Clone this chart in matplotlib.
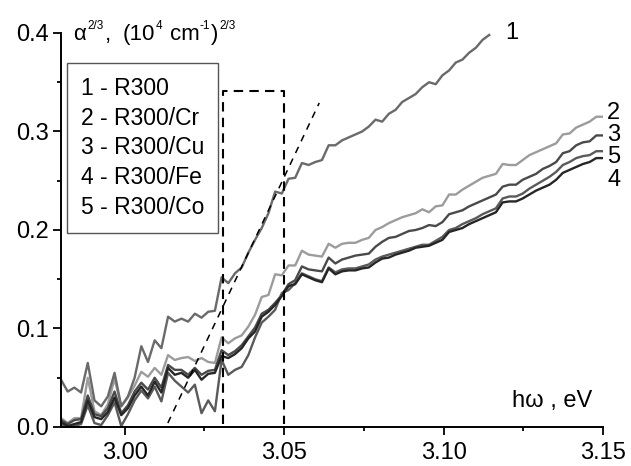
import numpy as np
import matplotlib
matplotlib.use('Agg')
import matplotlib.pyplot as plt
from matplotlib.ticker import MultipleLocator, FormatStrFormatter

plt.rcParams['font.family'] = ['Liberation Sans', 'DejaVu Sans']

# photon energy grid, eV
energy = np.linspace(2.98, 3.15, 82)

# alpha^(2/3)
r300 = [0.048, 0.036, 0.040, 0.035, 0.065, 0.027, 0.021, 0.031, 0.055, 0.021,
        0.031, 0.050, 0.082, 0.066, 0.088, 0.080, 0.112, 0.107, 0.110, 0.107,
        0.115, 0.111, 0.117, 0.118, 0.152, 0.146, 0.156, 0.162, 0.177, 0.190,
        0.202, 0.217, 0.239, 0.237, 0.252, 0.253, 0.268, 0.266, 0.269, 0.271,
        0.286, 0.286, 0.291, 0.294, 0.297, 0.300, 0.305, 0.312, 0.310, 0.318,
        0.322, 0.330, 0.334, 0.338, 0.345, 0.350, 0.348, 0.357, 0.362, 0.370,
        0.373, 0.380, 0.385, 0.393, 0.398]
r300_cr = [0.009, 0.004, 0.009, 0.009, 0.050, 0.016, 0.012, 0.023, 0.049, 0.021,
           0.030, 0.042, 0.056, 0.051, 0.060, 0.053, 0.073, 0.068, 0.070, 0.071,
           0.067, 0.070, 0.066, 0.065, 0.091, 0.085, 0.090, 0.093, 0.102, 0.114,
           0.132, 0.134, 0.155, 0.154, 0.164, 0.164, 0.179, 0.175, 0.174, 0.173,
           0.186, 0.182, 0.186, 0.187, 0.187, 0.190, 0.192, 0.200, 0.203, 0.207,
           0.210, 0.213, 0.215, 0.217, 0.221, 0.218, 0.224, 0.225, 0.236, 0.236,
           0.241, 0.245, 0.249, 0.253, 0.255, 0.257, 0.267, 0.266, 0.266, 0.271,
           0.276, 0.279, 0.282, 0.285, 0.288, 0.297, 0.298, 0.304, 0.307, 0.310,
           0.315, 0.315]
r300_cu = [0.007, 0.003, 0.007, 0.008, 0.032, 0.013, 0.011, 0.019, 0.036, 0.014,
           0.022, 0.036, 0.045, 0.038, 0.050, 0.040, 0.063, 0.058, 0.058, 0.053,
           0.060, 0.053, 0.057, 0.058, 0.078, 0.073, 0.077, 0.083, 0.092, 0.101,
           0.115, 0.119, 0.126, 0.134, 0.145, 0.149, 0.163, 0.160, 0.159, 0.158,
           0.172, 0.166, 0.170, 0.172, 0.174, 0.175, 0.176, 0.183, 0.188, 0.192,
           0.193, 0.196, 0.199, 0.200, 0.202, 0.205, 0.204, 0.208, 0.216, 0.218,
           0.220, 0.224, 0.227, 0.230, 0.233, 0.236, 0.244, 0.246, 0.246, 0.251,
           0.254, 0.257, 0.262, 0.265, 0.269, 0.278, 0.280, 0.286, 0.289, 0.290,
           0.296, 0.296]
r300_fe = [0.005, 0.001, 0.003, 0.005, 0.027, 0.010, 0.008, 0.015, 0.030, 0.012,
           0.019, 0.032, 0.041, 0.032, 0.046, 0.035, 0.060, 0.053, 0.055, 0.050,
           0.058, 0.048, 0.054, 0.055, 0.072, 0.070, 0.074, 0.080, 0.090, 0.097,
           0.112, 0.117, 0.124, 0.133, 0.143, 0.145, 0.155, 0.152, 0.149, 0.147,
           0.161, 0.155, 0.158, 0.159, 0.159, 0.161, 0.162, 0.167, 0.171, 0.172,
           0.175, 0.177, 0.179, 0.182, 0.183, 0.184, 0.187, 0.190, 0.198, 0.200,
           0.202, 0.206, 0.209, 0.212, 0.215, 0.218, 0.228, 0.229, 0.229, 0.232,
           0.236, 0.240, 0.243, 0.246, 0.251, 0.258, 0.261, 0.264, 0.267, 0.269,
           0.273, 0.273]
r300_co = [0.003, 0.000, 0.001, 0.003, 0.022, 0.004, 0.002, 0.012, 0.025, 0.001,
           0.013, 0.027, 0.037, 0.029, 0.041, 0.026, 0.055, 0.047, 0.041, 0.035,
           0.043, 0.014, 0.027, 0.016, 0.068, 0.053, 0.058, 0.061, 0.073, 0.091,
           0.106, 0.112, 0.119, 0.136, 0.139, 0.146, 0.156, 0.153, 0.150, 0.148,
           0.162, 0.157, 0.160, 0.161, 0.161, 0.163, 0.165, 0.170, 0.173, 0.175,
           0.177, 0.179, 0.181, 0.183, 0.185, 0.185, 0.189, 0.193, 0.200, 0.202,
           0.206, 0.209, 0.212, 0.216, 0.219, 0.222, 0.232, 0.234, 0.234, 0.237,
           0.242, 0.246, 0.250, 0.254, 0.259, 0.266, 0.269, 0.273, 0.275, 0.276,
           0.280, 0.280]

labels = ['1 - R300', '2 - R300/Cr', '3 - R300/Cu', '4 - R300/Fe', '5 - R300/Co']

# dashed guides
box_x = [3.0308, 3.0308, 3.0500, 3.0500]
box_y = [0.003, 0.341, 0.341, 0.003]
fit_x = [3.0135, 3.0610]
fit_y = [0.004, 0.329]

W, H = 631, 466
fig = plt.figure(figsize=(W / 100, H / 100), dpi=100)
ax = fig.add_axes([0.0967, 0.0837, 0.8589, 0.8455])

ax.plot(energy, r300_cr, color='#9c9c9c', lw=1.7)
ax.plot(energy, r300_cu, color='#4a4a4a', lw=1.7)
ax.plot(energy, r300_co, color='#5a5a5a', lw=1.7)
ax.plot(energy, r300_fe, color='#262626', lw=1.7)
ax.plot(energy[:len(r300)], r300, color='#6a6a6a', lw=1.7)

ax.plot(box_x, box_y, color='black', lw=1.5, ls=(0, (4.5, 3)))
ax.plot(fit_x, fit_y, color='black', lw=1.1, ls=(0, (4.5, 4)))

# curve numbers
ax.text(3.1193, 0.400, '1', fontsize=17, ha='left', va='center')
for num, yy in [('2', 0.319), ('3', 0.296), ('5', 0.274), ('4', 0.251)]:
    ax.text(3.1513, yy, num, fontsize=17, ha='left', va='center', clip_on=False)

ax.set_xlim(2.98, 3.15)
ax.set_ylim(0, 0.4)
ax.xaxis.set_major_locator(MultipleLocator(0.05))
ax.xaxis.set_minor_locator(MultipleLocator(0.025))
ax.yaxis.set_major_locator(MultipleLocator(0.1))
ax.yaxis.set_minor_locator(MultipleLocator(0.05))
ax.xaxis.set_major_formatter(FormatStrFormatter('%.2f'))
ax.yaxis.set_major_formatter(FormatStrFormatter('%.1f'))
ax.spines['top'].set_visible(False)
ax.spines['right'].set_visible(False)
for s in ['left', 'bottom']:
    ax.spines[s].set_linewidth(1.4)
ax.tick_params(which='major', direction='out', length=6, width=1.3,
               labelsize=17, pad=3)
ax.tick_params(which='minor', direction='out', length=3, width=1.3)
ax.tick_params(axis='x', which='major', pad=5)

handles = [plt.Line2D([], [], lw=0) for _ in labels]
leg = ax.legend(handles, labels, loc='upper left', bbox_to_anchor=(0.011, 0.924),
                borderaxespad=0, handlelength=0, handletextpad=0, fontsize=16.5,
                labelspacing=0.3, borderpad=0.6, fancybox=False, framealpha=1)
leg.get_frame().set_edgecolor('#555555')
leg.get_frame().set_linewidth(1.0)

# y-axis title, pieced together (small raised exponents)
renderer = fig.canvas.get_renderer()
ylab = [('\u03b1', 16, 0, 2), ('2/3', 8.5, 11, 1), (',', 16, 0, 11),
        ('(10', 16, 0, 1), ('4', 8.5, 11, 8), ('cm', 16, 0, 0),
        ('-1', 8.5, 11, 1), (')', 16, 0, 1), ('2/3', 8.5, 11, 0)]
xpos = 73
for s, fs, rise, gap in ylab:
    t = fig.text(xpos / W, 1 - (40 - rise) / H, s, fontsize=fs,
                 ha='left', va='baseline')
    xpos += t.get_window_extent(renderer).width + gap

fig.text(592 / W, 1 - 407 / H, 'h\u03c9 , eV', fontsize=17, ha='right', va='baseline')

fig.savefig('out.png', dpi=100)
